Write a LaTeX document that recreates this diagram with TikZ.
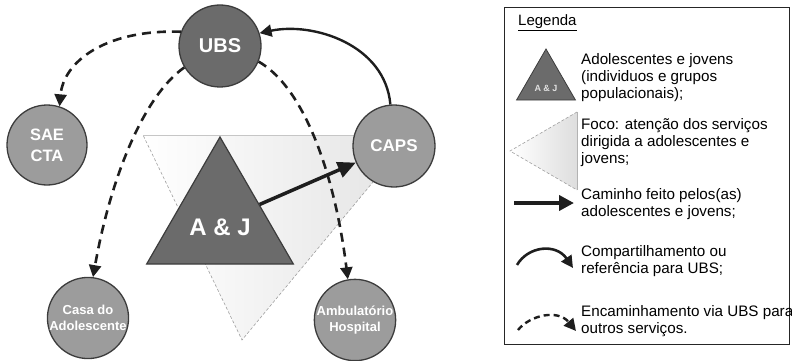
\documentclass[tikz,border=0pt]{standalone}
\usepackage{fontspec}
\setmainfont{Liberation Sans}
\usetikzlibrary{arrows.meta,shapes.geometric}
\definecolor{darkfill}{HTML}{6B6B6B}
\definecolor{lightfill}{HTML}{9C9C9C}
\definecolor{edgecol}{HTML}{3C3C3C}
\definecolor{linecol}{HTML}{1E1E1E}
\begin{document}
\begin{tikzpicture}[x=1pt,y=1pt,
  circ/.style={circle,draw=edgecol,line width=1.3pt,inner sep=0pt,text=white,align=center},
  darkc/.style={circ,fill=darkfill},
  lightc/.style={circ,fill=lightfill},
  dasharrow/.style={draw=linecol,line width=2.6pt,dash pattern=on 9pt off 6pt,-{Triangle[length=12pt,width=12pt]}},
  solidarrow/.style={draw=linecol,line width=2.4pt,-{Triangle[length=12pt,width=12pt]}},
  patharrow/.style={draw=linecol,line width=3.5pt,-{Triangle[length=18pt,width=16pt]}},
  legtext/.style={anchor=base west,inner sep=0pt,font=\fontsize{15.2}{17}\selectfont,text=black},
  focusedge/.style={draw=gray!75,line width=0.6pt,dash pattern=on 3pt off 2pt},
]
\useasboundingbox (0,0) rectangle (792,-361);

% focus (inverted) triangle
\coordinate (f1) at (143,-135);
\coordinate (f2) at (412,-135);
\coordinate (f3) at (242,-340);
\path[left color=white,right color=black!11] (f1) -- (f2) -- (f3) -- cycle;
\draw[focusedge] (f2) -- (f3) -- (f1);
\draw[gray!45,line width=0.8pt] (f1) -- (f2);

% A & J triangle
\node (aj) [regular polygon,regular polygon sides=3,minimum size=169.4pt,inner sep=0pt,
  fill=darkfill,draw=edgecol,line width=1.2pt] at (220,-221.7) {};
\node (ajtext) [text=white,font=\fontsize{24}{28}\selectfont\bfseries] at (220,-227) {A \& J};

% circles
\node (ubs) [darkc,minimum size=82pt,font=\fontsize{20}{24}\selectfont\bfseries] at (220,-46) {UBS};
\node (sae) [lightc,minimum size=80pt,font=\fontsize{16.5}{21}\selectfont\bfseries] at (47,-145) {SAE\\CTA};
\node (caps) [lightc,minimum size=82pt,font=\fontsize{17}{21}\selectfont\bfseries] at (394,-146) {CAPS};
\node (casa) [lightc,minimum size=80pt,font=\fontsize{13}{16}\selectfont\bfseries] at (88,-318) {Casa do\\Adolescente};
\node (amb) [lightc,minimum size=80pt,font=\fontsize{13}{16}\selectfont\bfseries] at (355,-320) {Ambulatório\\Hospital};

% connectors
\draw[dasharrow] (ubs.160) .. controls +(178:75) and +(85:45) .. (sae.72);
\draw[dasharrow] (ubs.211) .. controls +(215:50) and +(80:100) .. (casa.83);
\draw[dasharrow] (ubs.-22) .. controls +(-30:55) and +(97:100) .. (amb.100);
\draw[solidarrow] (caps.95) .. controls +(95:60) and +(12:55) .. (ubs.18);
\draw[patharrow] (aj) -- (caps);

% legend
\node (legbox) [draw=black!85,line width=1.2pt,minimum width=285pt,minimum height=337pt,
  inner sep=0pt,anchor=north west] at (504,-7) {};
\node (legtitle) [anchor=base west,inner sep=0pt,font=\fontsize{15}{17}\selectfont] at (518,-26) {\underline{Legenda}};

\node (legaj) [regular polygon,regular polygon sides=3,minimum size=68pt,inner sep=0pt,
  fill=darkfill,draw=edgecol,line width=0.8pt] at (546,-83) {};
\node (legajtext) [text=black!12,font=\fontsize{9}{10}\selectfont\bfseries] at (546,-88) {A \& J};
\node (l1a) [legtext] at (581,-64.5) {Adolescentes e jovens};
\node (l1b) [legtext] at (581,-81.5) {(individuos e grupos};
\node (l1c) [legtext] at (581,-98.5) {populacionais);};

\coordinate (g1) at (577,-112);
\coordinate (g2) at (510,-151);
\coordinate (g3) at (577,-190);
\path[left color=white,right color=black!13] (g1) -- (g2) -- (g3) -- cycle;
\draw[focusedge] (g1) -- (g2) -- (g3);
\draw[gray!60,line width=0.8pt] (g1) -- (g3);
\node (l2a) [legtext] at (581,-129.5) {Foco: atenção dos serviços};
\node (l2b) [legtext] at (581,-146.5) {dirigida a adolescentes e};
\node (l2c) [legtext] at (581,-163.5) {jovens;};

\coordinate (a1s) at (514,-203);
\coordinate (a1e) at (574,-203);
\draw[draw=linecol,line width=4.2pt,-{Triangle[length=15pt,width=15pt]}] (a1s) -- (a1e);
\node (l3a) [legtext] at (581,-199.5) {Caminho feito pelos(as)};
\node (l3b) [legtext] at (581,-216.5) {adolescentes e jovens;};

\coordinate (a2s) at (517,-265);
\coordinate (a2e) at (573,-268);
\draw[solidarrow,line width=2.6pt] (a2s) .. controls (528,-246) and (556,-243) .. (a2e);
\node (l4a) [legtext] at (581,-256.5) {Compartilhamento ou};
\node (l4b) [legtext] at (581,-273.5) {referência para UBS;};

\coordinate (a3s) at (518,-330);
\coordinate (a3e) at (576,-331);
\draw[draw=linecol,line width=2.4pt,dash pattern=on 6pt off 4pt,-{Triangle[length=12pt,width=12pt]}] (a3s) .. controls (530,-315) and (558,-309) .. (a3e);
\node (l5a) [legtext] at (581,-316.5) {Encaminhamento via UBS para};
\node (l5b) [legtext] at (581,-333.5) {outros serviços.};
\end{tikzpicture}
\end{document}
